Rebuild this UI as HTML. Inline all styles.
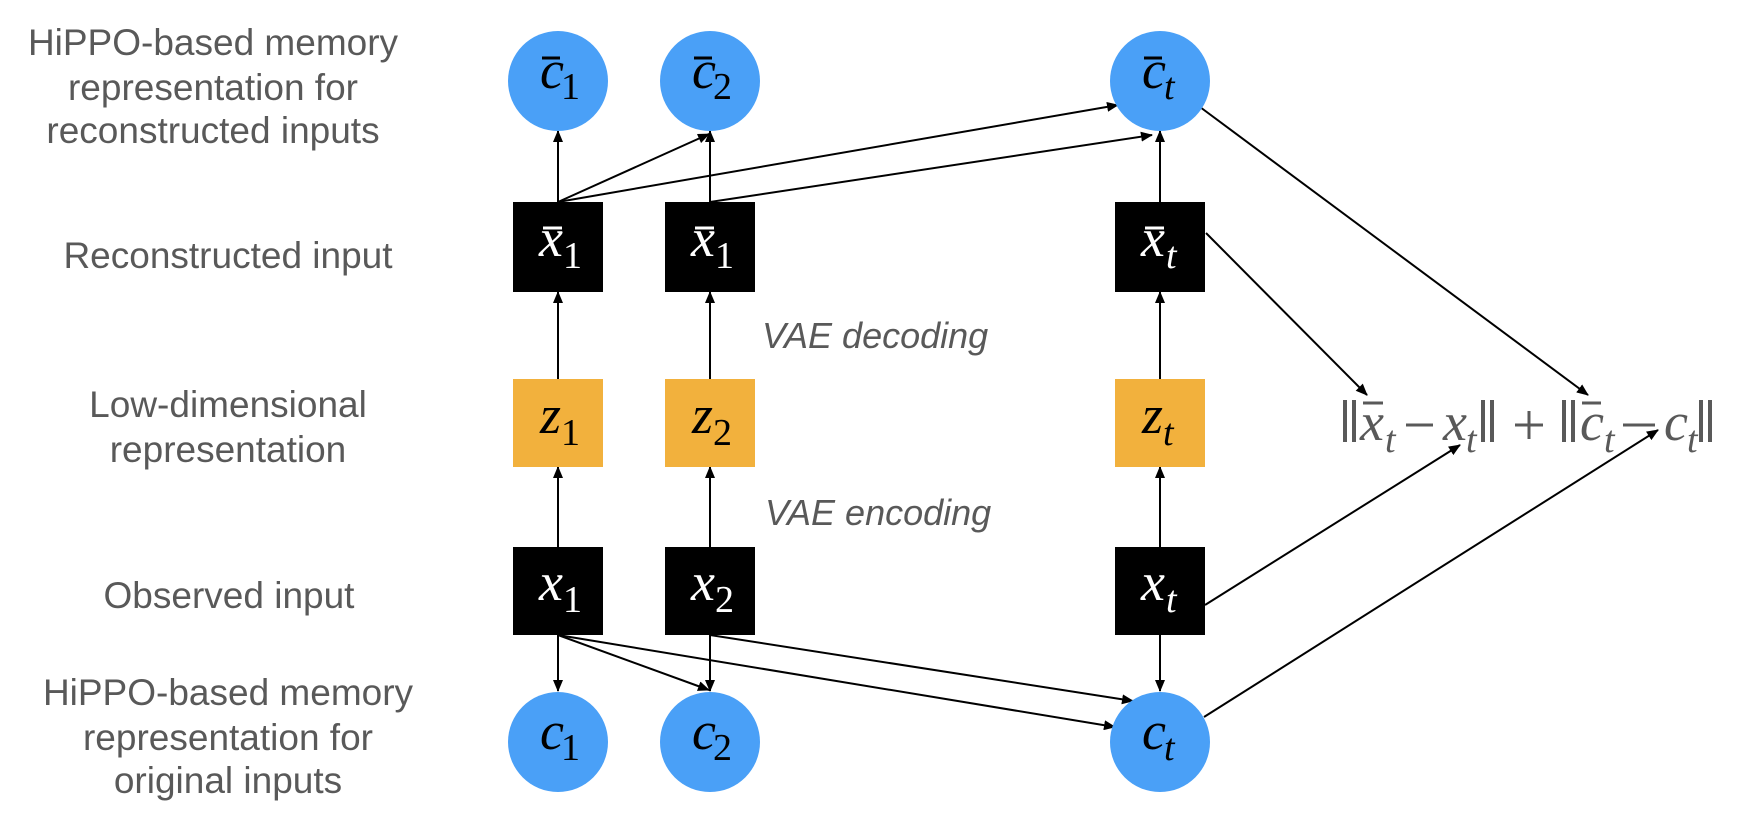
<!DOCTYPE html>
<html><head><meta charset="utf-8"><style>
html,body{margin:0;padding:0;background:#fff;}
svg{display:block;}
.lab{font-family:"Liberation Sans",Arial,sans-serif;font-size:37px;fill:#595959;text-anchor:middle;}
.vae{font-family:"Liberation Sans",Arial,sans-serif;font-size:36px;fill:#595959;font-style:italic;}
.m{font-family:"Liberation Serif","Times New Roman",serif;font-style:italic;font-size:54px;}
.s{font-family:"Liberation Serif","Times New Roman",serif;font-size:38px;}
.si{font-family:"Liberation Serif","Times New Roman",serif;font-style:italic;font-size:38px;}
.fm{font-family:"Liberation Serif","Times New Roman",serif;font-style:italic;font-size:54px;fill:#595959;}
.fs{font-family:"Liberation Serif","Times New Roman",serif;font-style:italic;font-size:38px;fill:#595959;}
</style></head><body>
<svg width="1753" height="813" viewBox="0 0 1753 813" xmlns="http://www.w3.org/2000/svg">
<defs>
<marker id="a" markerWidth="12" markerHeight="10" refX="11" refY="5" orient="auto" markerUnits="userSpaceOnUse">
<path d="M0,0 L12,5 L0,10 z" fill="#000"/>
</marker>
</defs>

<text class="lab" x="213" y="55">HiPPO-based memory</text>
<text class="lab" x="213" y="100">representation for</text>
<text class="lab" x="213" y="143">reconstructed inputs</text>
<text class="lab" x="228" y="268">Reconstructed input</text>
<text class="lab" x="228" y="417">Low-dimensional</text>
<text class="lab" x="228" y="462">representation</text>
<text class="lab" x="229" y="608">Observed input</text>
<text class="lab" x="228" y="705">HiPPO-based memory</text>
<text class="lab" x="228" y="750">representation for</text>
<text class="lab" x="228" y="793">original inputs</text>

<text class="vae" x="762" y="348">VAE decoding</text>
<text class="vae" x="765" y="525">VAE encoding</text>

<g stroke="#000" stroke-width="2" fill="none">
<line x1="558" y1="202" x2="558" y2="131" marker-end="url(#a)"/>
<line x1="710" y1="202" x2="710" y2="131" marker-end="url(#a)"/>
<line x1="1160" y1="202" x2="1160" y2="131" marker-end="url(#a)"/>
<line x1="558" y1="379" x2="558" y2="292" marker-end="url(#a)"/>
<line x1="710" y1="379" x2="710" y2="292" marker-end="url(#a)"/>
<line x1="1160" y1="379" x2="1160" y2="292" marker-end="url(#a)"/>
<line x1="558" y1="547" x2="558" y2="467" marker-end="url(#a)"/>
<line x1="710" y1="547" x2="710" y2="467" marker-end="url(#a)"/>
<line x1="1160" y1="547" x2="1160" y2="467" marker-end="url(#a)"/>
<line x1="558" y1="635" x2="558" y2="691" marker-end="url(#a)"/>
<line x1="710" y1="635" x2="710" y2="691" marker-end="url(#a)"/>
<line x1="1160" y1="635" x2="1160" y2="691" marker-end="url(#a)"/>
<line x1="558" y1="202" x2="709" y2="134" marker-end="url(#a)"/>
<line x1="558" y1="202" x2="1118" y2="105" marker-end="url(#a)"/>
<line x1="710" y1="202" x2="1152" y2="135" marker-end="url(#a)"/>
<line x1="558" y1="635" x2="709" y2="690" marker-end="url(#a)"/>
<line x1="558" y1="635" x2="1115" y2="727" marker-end="url(#a)"/>
<line x1="710" y1="635" x2="1133" y2="701" marker-end="url(#a)"/>
<line x1="1206" y1="233" x2="1367" y2="395" marker-end="url(#a)"/>
<line x1="1200" y1="107" x2="1588" y2="395" marker-end="url(#a)"/>
<line x1="1205" y1="605" x2="1460" y2="445" marker-end="url(#a)"/>
<line x1="1204" y1="717" x2="1658" y2="430" marker-end="url(#a)"/>
</g>

<g fill="#4aa0f7">
<circle cx="558" cy="81" r="50"/>
<circle cx="710" cy="81" r="50"/>
<circle cx="1160" cy="81" r="50"/>
<circle cx="558" cy="742" r="50"/>
<circle cx="710" cy="742" r="50"/>
<circle cx="1160" cy="742" r="50"/>
</g>
<g fill="#000">
<rect x="513" y="202" width="90" height="90"/>
<rect x="665" y="202" width="90" height="90"/>
<rect x="1115" y="202" width="90" height="90"/>
<rect x="513" y="547" width="90" height="88"/>
<rect x="665" y="547" width="90" height="88"/>
<rect x="1115" y="547" width="90" height="88"/>
</g>
<g fill="#f2b13d">
<rect x="513" y="379" width="90" height="88"/>
<rect x="665" y="379" width="90" height="88"/>
<rect x="1115" y="379" width="90" height="88"/>
</g>

<g fill="#000">
<text class="m" x="540" y="88">c</text><text class="s" x="561" y="99">1</text>
<text class="m" x="692" y="88">c</text><text class="s" x="713" y="99">2</text>
<text class="m" x="1142" y="88">c</text><text class="si" x="1164" y="99">t</text>
<text class="m" x="540" y="749">c</text><text class="s" x="561" y="760">1</text>
<text class="m" x="692" y="749">c</text><text class="s" x="713" y="760">2</text>
<text class="m" x="1142" y="749">c</text><text class="si" x="1164" y="760">t</text>
</g>
<g stroke="#000" stroke-width="3">
<line x1="542" y1="58" x2="560" y2="58"/>
<line x1="694" y1="58" x2="712" y2="58"/>
<line x1="1144" y1="58" x2="1162" y2="58"/>
</g>
<g fill="#fff">
<text class="m" x="539" y="256">x</text><text class="s" x="563" y="268">1</text>
<text class="m" x="691" y="256">x</text><text class="s" x="715" y="268">1</text>
<text class="m" x="1141" y="256">x</text><text class="si" x="1166" y="268">t</text>
<text class="m" x="539" y="600">x</text><text class="s" x="563" y="612">1</text>
<text class="m" x="691" y="600">x</text><text class="s" x="715" y="612">2</text>
<text class="m" x="1141" y="600">x</text><text class="si" x="1166" y="612">t</text>
</g>
<g stroke="#fff" stroke-width="3">
<line x1="543" y1="228" x2="562" y2="228"/>
<line x1="695" y1="228" x2="714" y2="228"/>
<line x1="1145" y1="228" x2="1164" y2="228"/>
</g>
<g fill="#000">
<text class="m" x="540" y="433">z</text><text class="s" x="561" y="445">1</text>
<text class="m" x="692" y="433">z</text><text class="s" x="713" y="445">2</text>
<text class="m" x="1142" y="433">z</text><text class="si" x="1163" y="445">t</text>
</g>

<g stroke="#595959" stroke-width="4">
<line x1="1345" y1="400" x2="1345" y2="442"/><line x1="1354" y1="400" x2="1354" y2="442"/>
<line x1="1483" y1="400" x2="1483" y2="442"/><line x1="1492" y1="400" x2="1492" y2="442"/>
<line x1="1564" y1="400" x2="1564" y2="442"/><line x1="1573" y1="400" x2="1573" y2="442"/>
<line x1="1701" y1="400" x2="1701" y2="442"/><line x1="1710" y1="400" x2="1710" y2="442"/>
<line x1="1406" y1="425" x2="1433" y2="425" stroke-width="3"/>
<line x1="1623" y1="425" x2="1655" y2="425" stroke-width="3"/>
<line x1="1515" y1="425" x2="1543" y2="425" stroke-width="3"/>
<line x1="1529" y1="411" x2="1529" y2="439" stroke-width="3"/>
<line x1="1363" y1="403" x2="1383" y2="403" stroke-width="3"/>
<line x1="1582" y1="403" x2="1601" y2="403" stroke-width="3"/>
</g>
<text class="fm" x="1360" y="440">x</text><text class="fs" x="1385" y="452">t</text>
<text class="fm" x="1443" y="440">x</text><text class="fs" x="1466" y="452">t</text>
<text class="fm" x="1580" y="440">c</text><text class="fs" x="1604" y="452">t</text>
<text class="fm" x="1664" y="440">c</text><text class="fs" x="1687" y="452">t</text>
</svg>
</body></html>
